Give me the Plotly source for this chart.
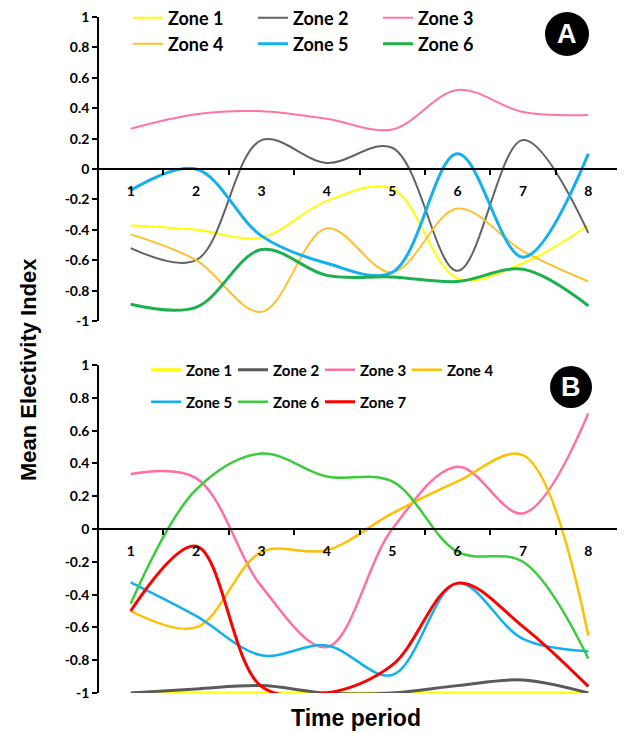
import plotly.graph_objects as go

periods = [1, 2, 3, 4, 5, 6, 7, 8]
period_labels = ["1", "2", "3", "4", "5", "6", "7", "8"]
y_tick_vals = [-1, -0.8, -0.6, -0.4, -0.2, 0, 0.2, 0.4, 0.6, 0.8, 1]
y_tick_text = ["-1", "-0.8", "-0.6", "-0.4", "-0.2", "0", "0.2", "0.4", "0.6", "0.8", "1"]

# Panel A
a_zone1 = [-0.37, -0.40, -0.45, -0.21, -0.13, -0.72, -0.62, -0.37]
a_zone2 = [-0.52, -0.60, 0.19, 0.04, 0.14, -0.67, 0.19, -0.42]
a_zone3 = [0.265, 0.36, 0.38, 0.33, 0.26, 0.52, 0.375, 0.355]
a_zone4 = [-0.43, -0.60, -0.94, -0.39, -0.68, -0.26, -0.54, -0.74]
a_zone5 = [-0.14, 0.0, -0.44, -0.62, -0.68, 0.10, -0.58, 0.10]
a_zone6 = [-0.89, -0.91, -0.53, -0.70, -0.71, -0.74, -0.66, -0.90]

# Panel B
b_zone1 = [-1, -1, -1, -1, -1, -1, -1, -1]
b_zone2 = [-1.0, -0.975, -0.955, -1.0, -1.0, -0.955, -0.92, -1.0]
b_zone3 = [0.335, 0.31, -0.35, -0.72, 0.0, 0.38, 0.095, 0.705]
b_zone4 = [-0.50, -0.60, -0.14, -0.13, 0.095, 0.29, 0.45, -0.65]
b_zone5 = [-0.325, -0.53, -0.77, -0.71, -0.89, -0.33, -0.67, -0.745]
b_zone6 = [-0.455, 0.24, 0.46, 0.32, 0.29, -0.14, -0.20, -0.79]
b_zone7 = [-0.50, -0.105, -0.96, -1.0, -0.83, -0.33, -0.595, -0.96]

names = ["Zone 1", "Zone 2", "Zone 3", "Zone 4", "Zone 5", "Zone 6", "Zone 7"]
colors_a = ["#FFFF00", "#626262", "#FF73A6", "#FFC02E", "#12B0EE", "#1DB04E"]
widths_a = [2, 2, 2, 2, 3, 3]
colors_b = ["#FFFF00", "#5A5A5A", "#FF6FA3", "#FFC000", "#12B0EE", "#3BCB3B", "#FF0000"]
widths_b = [3, 3, 2.5, 2.5, 2.5, 2.5, 3]

# page body has an 8px margin: figure coords = screen coords - 8
OX, OY = 8, 8
W, H = 617, 725
ML, MT = 98 - OX, 17 - OY
MR = W - (621 - OX)
MB = H - (693 - OY)
PW, PH = W - ML - MR, H - MT - MB

def py(p):  # screen pixel y -> paper
    return (H - MB - (p - OY)) / PH

def px(p):  # screen pixel x -> paper
    return (p - OX - ML) / PW

domA = [py(321), 1.0]
domB = [0.0, py(365)]

fig = go.Figure()

TICKFONT = dict(family="Lato", size=14, color="black", weight="bold")
LEGFONT_A = dict(family="Lato", size=18, color="black", weight="bold")
LEGFONT_B = dict(family="Lato", size=15, color="black", weight="bold")

a_series = [a_zone1, a_zone2, a_zone3, a_zone4, a_zone5, a_zone6]
for i, ys in enumerate(a_series):
    fig.add_trace(go.Scatter(
        x=periods, y=ys, name=names[i], mode="lines",
        line=dict(color=colors_a[i], width=widths_a[i], shape="spline", smoothing=1),
        xaxis="x", yaxis="y", legend="legend" if i < 3 else "legend2"))

b_series = [b_zone1, b_zone2, b_zone3, b_zone4, b_zone5, b_zone6, b_zone7]
for i, ys in enumerate(b_series):
    fig.add_trace(go.Scatter(
        x=periods, y=ys, name=names[i], mode="lines",
        line=dict(color=colors_b[i], width=widths_b[i], shape="spline", smoothing=1),
        xaxis="x2", yaxis="y2", legend="legend3" if i < 4 else "legend4"))

def xaxis_cfg(anchor_pos):
    return dict(
        range=[0.5, 8.5], tickvals=periods, ticktext=period_labels,
        ticks="", showline=True, linecolor="black", linewidth=1.5,
        showgrid=False, zeroline=False, anchor="free", position=anchor_pos,
        tickfont=TICKFONT, ticklabelstandoff=9,
        minor=dict(ticks="outside", tick0=0.5, dtick=1, ticklen=5,
                   tickcolor="black", tickwidth=1.5, showgrid=False),
        fixedrange=True)

def yaxis_cfg(dom):
    return dict(
        domain=dom, range=[-1, 1], tickvals=y_tick_vals, ticktext=y_tick_text,
        ticks="outside", ticklen=5, tickwidth=1.5, tickcolor="black",
        showline=True, linecolor="black", linewidth=1.5,
        showgrid=False, zeroline=False, tickfont=TICKFONT, anchor="free", position=0,
        ticklabeloverflow="allow", fixedrange=True)

fig.update_layout(
    width=W, height=H,
    margin=dict(l=ML, r=MR, t=MT, b=MB, autoexpand=False),
    paper_bgcolor="white", plot_bgcolor="white",
    xaxis=xaxis_cfg((domA[0] + domA[1]) / 2),
    yaxis=yaxis_cfg(domA),
    xaxis2=xaxis_cfg((domB[0] + domB[1]) / 2),
    yaxis2=yaxis_cfg(domB),
    showlegend=True,
)

def leg(x, y, font, ew):
    return dict(orientation="h", x=x, y=y, xanchor="left", yanchor="middle",
                font=font, entrywidth=ew, entrywidthmode="pixels",
                bgcolor="rgba(0,0,0,0)", itemwidth=30, traceorder="normal")

fig.update_layout(
    legend=leg(px(128), py(18), LEGFONT_A, 80),
    legend2=leg(px(128), py(44), LEGFONT_A, 80),
    legend3=leg(px(146), py(370), LEGFONT_B, 42),
    legend4=leg(px(146), py(402), LEGFONT_B, 42),
)

# Panel badges
for (cx, cy, r, letter) in [(567, 34, 22, "A"), (571, 387, 21, "B")]:
    fig.add_shape(type="circle", xref="paper", yref="paper",
                  x0=px(cx - r), x1=px(cx + r), y0=py(cy + r), y1=py(cy - r),
                  fillcolor="black", line=dict(color="black", width=0), layer="above")
    fig.add_annotation(x=px(cx), y=py(cy), xref="paper", yref="paper",
                       xanchor="center", yanchor="middle",
                       text=letter, showarrow=False,
                       font=dict(family="Liberation Sans", size=27, color="white", weight="bold"))

fig.add_annotation(x=px(28), y=py(370), xref="paper", yref="paper",
                   xanchor="center", yanchor="middle",
                   text="Mean Electivity Index", textangle=-90, showarrow=False,
                   font=dict(family="Liberation Sans", size=22, color="black", weight="bold"))
fig.add_annotation(x=px(356), y=py(718), xref="paper", yref="paper",
                   xanchor="center", yanchor="middle",
                   text="Time period", showarrow=False,
                   font=dict(family="Liberation Sans", size=23, color="black", weight="bold"))

fig.write_html("out.html")
